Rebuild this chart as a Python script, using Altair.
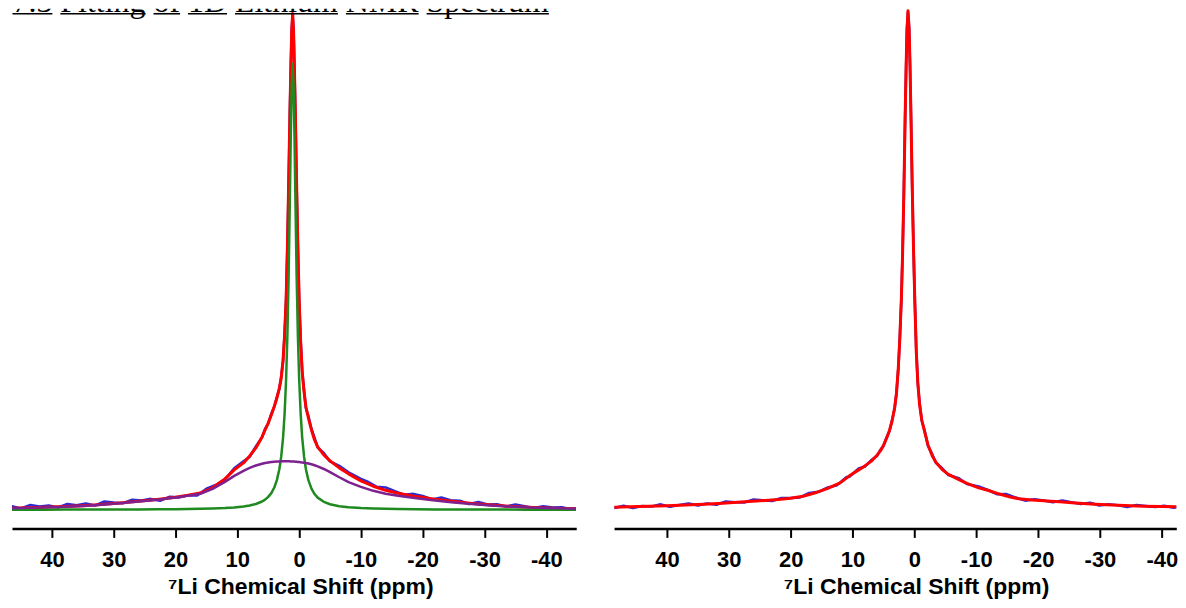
import altair as alt
import pandas as pd

# ---------------- data ----------------
TICKS = [40, 30, 20, 10, 0, -10, -20, -30, -40]
AXIS_TITLE = "⁷Li Chemical Shift (ppm)"
TITLE_TEXT = "7.3 Fitting of 1D Lithium NMR Spectrum"

# Left panel: shared ppm grid for the fitted curves
L_PPM = [46.5, 44, 41, 38, 35, 32, 29, 26, 23, 20,
         18, 16, 14, 12, 10.5, 9, 8, 7, 6, 5.5,
         5, 4.5, 4, 3.6, 3.2, 2.9, 2.6, 2.35, 2.1, 1.9,
         1.7, 1.5, 1.35, 1.2, 1.05, 0.9, 0.75, 0.6, 0.4, 0.2,
         0, -0.25, -0.5, -0.8, -1.1, -1.5, -2, -2.5, -3, -4,
         -5, -6.5, -8, -10, -12, -14, -16, -19, -22, -25,
         -28, -31, -34, -37, -40, -42.5, -44.8]
L_GREEN = [0.10, 0.11, 0.13, 0.15, 0.18, 0.22, 0.26, 0.33, 0.43, 0.58,
           0.72, 0.92, 1.23, 1.72, 2.30, 3.25, 4.24, 5.76, 8.28, 10.2,
           12.9, 16.7, 22.6, 29.7, 40.6, 53.2, 72.1, 96.1, 132.1, 174.4,
           233.6, 310.9, 374.2, 426.2, 447.0, 426.2, 374.2, 310.9, 233.6, 174.4,
           132.1, 96.1, 72.1, 53.2, 40.6, 29.7, 21.2, 15.8, 12.2, 7.95,
           5.57, 3.60, 2.51, 1.69, 1.21, 0.91, 0.71, 0.51, 0.39, 0.30,
           0.24, 0.20, 0.17, 0.14, 0.12, 0.11, 0.10]
L_PURPLE = [1.55, 1.9, 2.4, 3.0, 3.8, 5.0, 6.5, 8.2, 10.0, 12.2,
            14.2, 16.0, 21.0, 28.0, 34.0, 39.0, 42.0, 44.4, 46.2, 46.9,
            47.4, 47.8, 48.1, 48.3, 48.5, 48.55, 48.6, 48.6, 48.6, 48.6,
            48.55, 48.55, 48.5, 48.5, 48.4, 48.35, 48.3, 48.2, 48.1, 48.0,
            47.85, 47.6, 47.4, 47.2, 46.8, 46.4, 45.6, 44.6, 43.5, 40.9,
            37.8, 32.6, 27.8, 23.0, 19.0, 16.0, 14.0, 11.5, 9.3, 7.4,
            5.7, 4.3, 3.2, 2.4, 1.8, 1.4, 1.0]
L_RED = [1.6, 2.0, 2.6, 3.3, 4.1, 5.2, 6.7, 8.5, 10.3, 12.5,
         14.5, 16.8, 22.0, 31.0, 40.0, 47.0, 54.0, 62.0, 73.0, 80.0,
         87.0, 95.0, 104.0, 112.0, 122.0, 132.0, 150.0, 175.0, 212.0, 262.0,
         325.0, 395.0, 440.0, 480.0, 497.6, 480.0, 440.0, 395.0, 325.0, 262.0,
         212.0, 168.0, 138.0, 118.0, 103.0, 92.0, 80.0, 70.0, 63.0, 55.0,
         49.0, 42.0, 36.0, 29.0, 23.6, 19.5, 16.5, 13.2, 10.5, 8.3,
         6.3, 4.7, 3.5, 2.6, 1.9, 1.4, 1.1]

# Left panel: measured (blue) points
L_BLUE_PPM = [46.5, 45, 43.5, 42, 40.5, 39, 37.5, 36, 34.5, 33,
              31.5, 30, 28.5, 27, 25.5, 24, 22.5, 21, 19.5, 18,
              16.5, 15, 13.5, 12,
              10.5, 9, 8, 7, 6, 5.5, 5, 4.5, 4, 3.6,
              3.2, 2.9, 2.6, 2.35, 2.1, 1.9, 1.7, 1.5, 1.35, 1.2,
              1.05, 0.9, 0.75, 0.6, 0.4, 0.2, 0, -0.25, -0.5, -0.8,
              -1.1, -1.5, -2, -2.5, -3, -4, -5, -6.5, -8, -10,
              -11, -12.5, -14, -15.5, -17, -18.5, -20, -21.5, -23, -24.5,
              -26, -27.5, -29, -30.5, -32, -33.5, -35, -36.5, -38, -39.5,
              -41, -42.5, -44, -44.8]
L_BLUE = [3.4, 1.35, 4.7, 3.3, 4.3, 2.3, 5.7, 4.4, 6.35, 4.3,
          8.3, 7.2, 6.6, 10.0, 9.2, 10.9, 9.1, 12.9, 12.4, 14.4,
          14.3, 21.0, 24.8, 30.6,
          41.5, 48.5, 53.2, 63.5, 72.6, 81.2, 86.4, 96.3, 103.5, 113,
          121, 133, 149, 176, 211, 263, 323, 397, 442, 482,
          496, 481, 438, 397, 323, 264, 210, 170, 139, 120,
          102, 94, 81, 72, 62.5, 57, 48.5, 44, 37.5, 31,
          28.4, 23.1, 22.4, 18.5, 15.0, 15.9, 13.9, 10.3, 12.2, 9.6,
          9.1, 5.7, 7.7, 5.3, 5.5, 3.2, 5.2, 3.6, 1.7, 3.6,
          2.15, 2.5, 0.55, 1.5]

# Right panel: fitted curve
R_PPM = [48.5, 46, 43, 40, 37, 34, 31, 28, 25, 22,
         20, 18, 16, 14, 12, 10.5, 9, 8, 7, 6,
         5.5, 5, 4.5, 4, 3.6, 3.2, 2.9, 2.6, 2.35, 2.1,
         1.9, 1.7, 1.5, 1.35, 1.2, 1.03, 0.85, 0.7, 0.55,
         0.35, 0.15, -0.05, -0.3, -0.55, -0.85, -1.2, -1.7, -2.2, -2.9,
         -3.5, -4.5, -5.5, -7.2, -8.5, -10.4, -12, -13.6, -15.5, -16.9,
         -19, -21.5, -23.5, -26, -28.5, -31, -34, -37, -40, -43.6]
R_RED = [2.6, 3.0, 3.5, 4.1, 4.8, 5.6, 6.6, 7.8, 9.0, 10.3,
         11.5, 13.5, 17.0, 21.5, 27.0, 34.0, 40.0, 44.0, 48.5, 55.0,
         59.0, 64.5, 71.5, 80.0, 89.0, 102.0, 116.0, 142.0, 172.0, 212.0,
         258.0, 318.0, 390.0, 440.0, 480.0, 500.3, 482.0, 445.0, 395.0,
         325.0, 265.0, 215.0, 160.0, 128.0, 105.0, 90.0, 77.0, 65.0, 54.0,
         47.5, 40.3, 35.5, 30.3, 26.5, 22.0, 19.3, 16.0, 12.8, 11.0,
         9.8, 8.9, 8.0, 6.8, 5.8, 5.0, 4.2, 3.6, 3.2, 3.0]

# Right panel: measured (blue) points
R_BLUE_PPM = [48.5, 47, 45.5, 44, 42.5, 41, 39.5, 38, 36.5, 35,
              33.5, 32, 30.5, 29, 27.5, 26, 24.5, 23, 21.5, 20,
              18.5, 17, 15.5, 14, 12.5, 11,
              10.5, 9, 8, 7, 6, 5.5, 5, 4.5, 4, 3.6,
              3.2, 2.9, 2.6, 2.35, 2.1, 1.9, 1.7, 1.5, 1.35, 1.2,
              1.03, 0.85, 0.7, 0.55, 0.35, 0.15, -0.05, -0.3, -0.55, -0.85,
              -1.2, -1.7, -2.2, -2.9, -3.5, -4.5, -5.5, -7.2, -8.5,
              -10.4, -11.9, -13.4, -14.9, -16.4, -17.9, -19.4, -20.9, -22.4, -23.9,
              -25.4, -26.9, -28.4, -29.9, -31.4, -32.9, -34.4, -35.9, -37.4, -38.9,
              -40.4, -41.9, -43.6]
R_BLUE = [1.8, 4.05, 1.7, 3.85, 3.3, 5.4, 3.1, 4.75, 6.2, 4.4,
          6.35, 5.05, 8.2, 7.5, 7.3, 10.2, 9.6, 8.9, 11.7, 11.8,
          12.4, 16.9, 18.0, 22.4, 24.7, 32.7,
          33.2, 41.3, 43.4, 49.6, 54.2, 60.1, 63.8, 72.4, 79.2, 90,
          101, 117, 141, 173, 211, 259, 316, 392, 438, 482,
          499, 484, 443, 397, 323, 267, 213, 162, 127, 107,
          89, 78.5, 64, 55.5, 46.8, 41.6, 34.8, 31.5, 25.8,
          23.4, 19.8, 15.6, 15.7, 12.2, 9.2, 10.6, 9.3, 7.6, 9.3,
          7.5, 5.8, 7.05, 4.25, 5.6, 4.6, 2.85, 4.75, 3.85, 2.85,
          4.0, 2.1, 3.4]

# word extents of the (cut-off) underlined heading, in plot pixels
TITLE_WORDS_X0 = [0.5, 48.5, 141.9, 176.5, 223.6, 334.8, 415.7]
TITLE_WORDS_X1 = [40.5, 133.9, 168.5, 215.6, 326.8, 407.7, 538.3]

# ---------------- styling ----------------
Y_DOMAIN = [-18.7, 502.3]
PLOT_H = 521
L_W, R_W = 565.7, 563.7
L_DOMAIN = [46.46, -44.84]
R_DOMAIN = [48.545, -42.34]

RED, BLUE, GREEN, PURPLE = "#ff0000", "#2b2bd6", "#1f8a1f", "#7e2190"


def make_axis(title_x):
    return alt.Axis(
        values=TICKS, title=AXIS_TITLE, labelExpr="'' + datum.value",
        grid=False, domainColor="black", domainWidth=2.5,
        tickColor="black", tickWidth=2, tickSize=9,
        labelFont="Liberation Sans", labelFontWeight="bold", labelFontSize=22,
        labelColor="black", labelPadding=29, labelBaseline="alphabetic",
        labelFlush=False, labelOverlap=False,
        titleFont="Liberation Sans", titleFontWeight="bold", titleFontSize=23,
        titleColor="black", titleX=title_x, titleY=65,
        titleBaseline="alphabetic", titleAlign="center",
    )


def line_layer(ppm, vals, color, width, domain, axis):
    df = pd.DataFrame({"ppm": ppm, "v": vals})
    return alt.Chart(df).mark_line(
        color=color, strokeWidth=width, clip=True, strokeJoin="round"
    ).encode(
        x=alt.X("ppm:Q", scale=alt.Scale(domain=domain, nice=False, zero=False), axis=axis),
        y=alt.Y("v:Q", scale=alt.Scale(domain=Y_DOMAIN, nice=False, zero=False), axis=None),
    )


l_axis = make_axis(289)
r_axis = make_axis(302.7)

title_df = pd.DataFrame({"t": [TITLE_TEXT]})
title_layer = alt.Chart(title_df).mark_text(
    font="Liberation Serif", fontSize=32, align="left", baseline="alphabetic",
    color="black", clip=True,
).encode(x=alt.value(0.5), y=alt.value(3), text="t:N")

ul_df = pd.DataFrame({"x0": TITLE_WORDS_X0, "x1": TITLE_WORDS_X1})
underline_layer = alt.Chart(ul_df).mark_rule(color="black", strokeWidth=1.6).encode(
    x=alt.X("x0:Q", scale=None), x2="x1:Q", y=alt.value(5)
)

left = alt.layer(
    line_layer(L_BLUE_PPM, L_BLUE, BLUE, 2.6, L_DOMAIN, l_axis),
    line_layer(L_PPM, L_RED, RED, 3, L_DOMAIN, l_axis),
    line_layer(L_PPM, L_GREEN, GREEN, 2.5, L_DOMAIN, l_axis),
    line_layer(L_PPM, L_PURPLE, PURPLE, 2.5, L_DOMAIN, l_axis),
    title_layer,
    underline_layer,
).properties(width=L_W, height=PLOT_H)

right = alt.layer(
    line_layer(R_BLUE_PPM, R_BLUE, BLUE, 2.6, R_DOMAIN, r_axis),
    line_layer(R_PPM, R_RED, RED, 3, R_DOMAIN, r_axis),
).properties(width=R_W, height=PLOT_H)

chart = alt.hconcat(left, right, spacing=37.6, bounds="flush").properties(
    padding={"left": 3, "top": 0, "right": 0, "bottom": 0},
    autosize=alt.AutoSizeParams(type="pad"),
    background="white",
).configure_view(stroke=None)

chart.save("out.html", embed_options={"renderer": "svg", "actions": False})
